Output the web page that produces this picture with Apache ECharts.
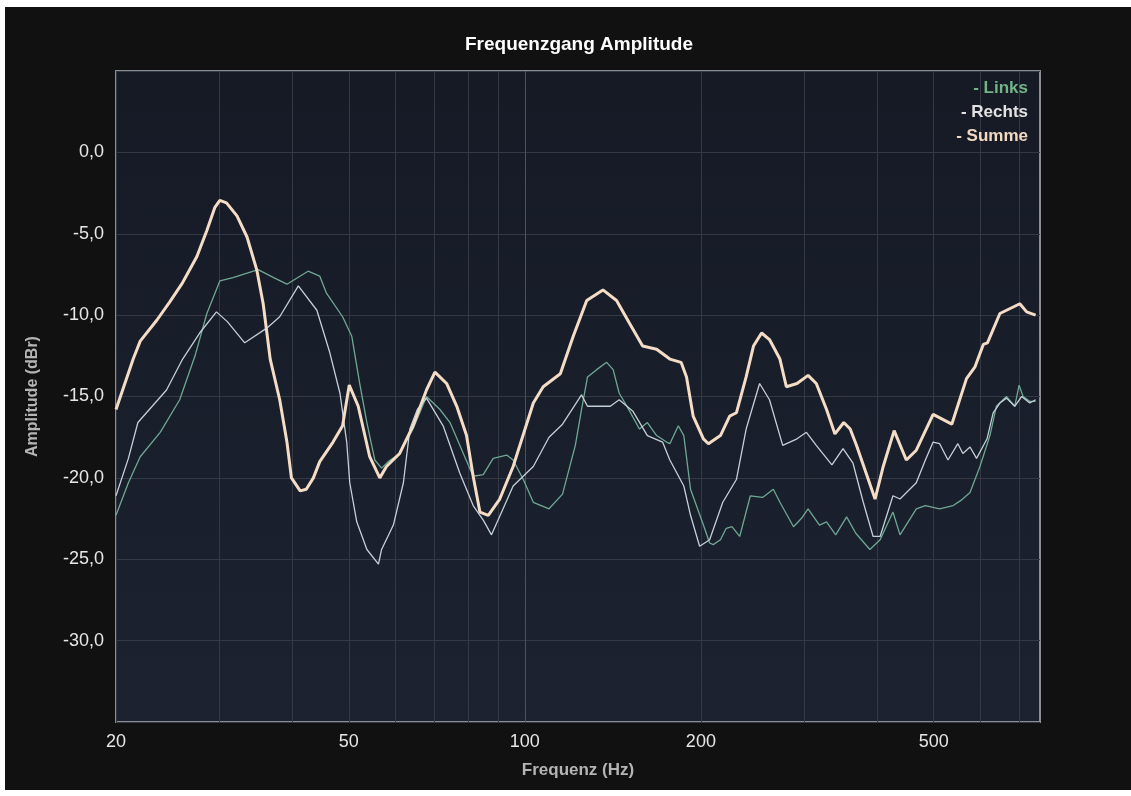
<!DOCTYPE html>
<html>
<head>
<meta charset="utf-8">
<title>Frequenzgang Amplitude</title>
<script src="https://cdn.jsdelivr.net/npm/echarts@6/dist/echarts.min.js"></script>
<style>
  html, body { margin: 0; padding: 0; background: #ffffff; width: 1131px; height: 796px; overflow: hidden; }
  #chart { position: absolute; left: 5px; top: 7px; width: 1126px; height: 783px; background: #111111; }
</style>
</head>
<body>
<div id="chart"></div>
<script>
// Frequenzgang: Frequenz in Hz, Pegel in dBr
const freqLinks = [20.0, 21.0, 22.0, 23.8, 25.7, 27.3, 28.6, 30.1, 31.7, 35.0, 37.2, 39.2, 42.6, 44.6, 45.8, 48.8, 50.6, 52.2, 53.7, 55.4, 56.9, 58.4, 61.1, 64.4, 67.9, 71.6, 74.5, 78.5, 81.6, 84.9, 88.3, 93.1, 95.5, 99.4, 103.4, 110, 116, 122, 125, 128, 132.7, 138, 141.6, 145, 150, 157, 162, 168, 174.7, 177, 183, 187, 192, 202, 207, 210, 216, 221, 226, 233, 243, 255, 266, 273, 288, 297, 305, 319, 328, 340, 355, 368, 389, 405, 426, 438, 467, 484, 512, 540, 556, 577, 600, 624, 640, 666, 688, 700, 711, 730, 747];
const dbLinks = [-22.3, -20.3, -18.7, -17.2, -15.2, -12.5, -9.9, -7.9, -7.7, -7.2, -7.7, -8.1, -7.3, -7.6, -8.65, -10.1, -11.3, -14.2, -16.6, -18.9, -19.4, -19.0, -18.5, -17.0, -15.0, -15.8, -16.6, -18.5, -19.9, -19.8, -18.8, -18.6, -18.9, -20.1, -21.5, -21.9, -21.0, -18.0, -15.8, -13.8, -13.35, -12.9, -13.35, -14.8, -15.7, -17.0, -16.6, -17.4, -17.8, -17.9, -16.8, -17.4, -20.7, -22.9, -24.0, -24.1, -23.8, -23.1, -23.0, -23.6, -21.1, -21.2, -20.7, -21.5, -23.0, -22.5, -21.9, -22.9, -22.7, -23.5, -22.4, -23.4, -24.4, -23.8, -22.1, -23.5, -21.9, -21.7, -21.9, -21.7, -21.4, -20.9, -19.3, -17.4, -15.6, -15.0, -15.6, -14.3, -15.0, -15.3, -15.3];

const freqRechts = [20.0, 21.0, 21.8, 24.4, 26.0, 27.8, 29.7, 31.0, 33.2, 36.2, 38.1, 41.0, 44.1, 46.4, 48.3, 49.6, 50.2, 51.6, 53.7, 56.2, 56.9, 59.6, 62.0, 63.6, 65.5, 67.9, 72.5, 77.4, 81.6, 84.9, 87.7, 91.8, 95.5, 103.4, 110, 116, 125, 128, 134, 140, 145, 153, 162, 172, 177, 187, 192, 199, 207, 218, 230, 239, 252, 262, 276, 292, 303, 315, 335, 350, 364, 379, 394, 405, 426, 438, 467, 484, 499, 512, 529, 550, 561, 577, 592, 617, 632, 649, 666, 688, 707, 730, 747];
const dbRechts = [-21.1, -18.8, -16.6, -14.6, -12.7, -11.1, -9.8, -10.4, -11.7, -10.8, -10.1, -8.2, -9.7, -12.3, -14.8, -17.8, -20.3, -22.7, -24.4, -25.3, -24.4, -22.9, -20.3, -17.0, -15.8, -15.1, -16.8, -19.7, -21.7, -22.6, -23.5, -21.9, -20.5, -19.3, -17.5, -16.7, -14.9, -15.6, -15.6, -15.6, -15.2, -15.9, -17.4, -17.8, -18.9, -20.5, -22.3, -24.2, -23.8, -21.5, -20.1, -17.0, -14.2, -15.2, -18.0, -17.6, -17.2, -18.0, -19.2, -18.2, -19.1, -21.5, -23.6, -23.6, -21.1, -21.3, -20.3, -18.9, -17.8, -17.9, -18.9, -17.9, -18.5, -18.1, -18.8, -17.6, -16.0, -15.4, -15.1, -15.6, -15.0, -15.4, -15.2];

const freqSumme = [20.0, 21.4, 22.0, 23.5, 24.7, 26.0, 27.5, 28.6, 29.5, 30.1, 30.9, 32.2, 33.5, 34.8, 35.7, 36.7, 38.1, 39.2, 39.9, 41.3, 42.3, 43.5, 44.6, 47.0, 48.8, 50.1, 51.9, 54.3, 56.5, 58.0, 61.1, 64.4, 67.9, 70.2, 73.5, 76.5, 79.5, 81.6, 83.8, 86.6, 90.6, 95.5, 103.4, 107.5, 115, 121, 127.6, 136, 143.5, 151, 159, 168, 177, 185, 189, 194, 202, 206, 216, 224, 230, 239, 246, 254, 262, 273, 280, 292, 305, 315, 328, 339, 351, 360, 369, 397, 410, 428, 449, 467, 499, 537, 569, 588, 608, 618, 649, 684, 702, 721, 747];
const dbSumme = [-15.8, -12.7, -11.6, -10.3, -9.2, -8.0, -6.4, -4.8, -3.4, -2.95, -3.1, -3.9, -5.2, -7.2, -9.3, -12.7, -15.2, -17.8, -20.0, -20.8, -20.7, -20.0, -19.0, -17.8, -16.8, -14.3, -15.6, -18.7, -20.0, -19.3, -18.5, -16.8, -14.6, -13.5, -14.2, -15.6, -17.4, -19.9, -22.1, -22.3, -21.3, -19.3, -15.4, -14.4, -13.6, -11.3, -9.1, -8.45, -9.1, -10.5, -11.9, -12.1, -12.7, -12.9, -13.8, -16.2, -17.6, -17.9, -17.4, -16.2, -16.0, -13.8, -11.9, -11.1, -11.5, -12.7, -14.4, -14.2, -13.7, -14.2, -15.8, -17.3, -16.6, -17.0, -18.0, -21.3, -19.3, -17.1, -18.9, -18.3, -16.1, -16.7, -13.9, -13.2, -11.8, -11.7, -9.9, -9.5, -9.3, -9.8, -10.0];

// Achsen
const gridFreqs = [20, 30, 40, 50, 60, 70, 80, 90, 100, 200, 300, 400, 500, 600, 700];
const labelFreqs = [20, 50, 100, 200, 500];
const freqMin = 20;
const freqMax = 760;
const dbMin = -35;
const dbMax = 5;
const dbStep = 5;

const seriesNames = ['Links', 'Rechts', 'Summe'];
const lineColors = ['#6fa892', '#c3d0d8', '#f4dcc5'];
const legendColors = ['#72b486', '#e2e2e2', '#f1d9c2'];

const pairs = (xs, ys) => xs.map((x, i) => [x, ys[i]]);

// dezente Gitterlinien, die Dekade bei 100 Hz etwas heller
const vGridColors = gridFreqs.map(f => (f === 100 ? '#4d525c' : '#343944'));

const FONT = '"Liberation Sans", Arial, sans-serif';

const chart = echarts.init(document.getElementById('chart'), null, { renderer: 'canvas' });

chart.setOption({
  backgroundColor: '#111111',
  animation: false,
  textStyle: { fontFamily: FONT },
  title: {
    text: 'Frequenzgang Amplitude',
    left: 569,
    top: 23,
    textAlign: 'center',
    textStyle: { color: '#ffffff', fontSize: 19, fontWeight: 'bold', fontFamily: FONT }
  },
  legend: {
    orient: 'vertical',
    right: 93,
    top: 68,
    align: 'right',
    itemWidth: 0,
    itemHeight: 0,
    itemGap: 7,
    icon: 'rect',
    formatter: '- {name}',
    selectedMode: false,
    textStyle: { fontSize: 17, fontWeight: 'bold', fontFamily: FONT },
    data: seriesNames.map((n, i) => ({ name: n, textStyle: { color: legendColors[i] } }))
  },
  grid: {
    left: 111,
    right: 91,
    top: 64,
    bottom: 68,
    show: true,
    borderColor: '#8a8d92',
    borderWidth: 2,
    backgroundColor: new echarts.graphic.LinearGradient(0, 0, 0, 1, [
      { offset: 0, color: '#151a25' },
      { offset: 1, color: '#1c2230' }
    ])
  },
  xAxis: {
    type: 'log',
    logBase: 10,
    min: freqMin,
    max: freqMax,
    name: 'Frequenz (Hz)',
    nameLocation: 'middle',
    nameGap: 40,
    nameTextStyle: { color: '#b4b4b4', fontSize: 17, fontWeight: 'bold', fontFamily: FONT },
    axisLine: { show: false },
    axisTick: { show: false, customValues: gridFreqs },
    axisLabel: {
      customValues: labelFreqs,
      formatter: v => String(Math.round(v)),
      color: '#e6e6e6',
      fontSize: 18,
      margin: 11,
      fontFamily: FONT
    },
    splitLine: { show: true, lineStyle: { color: vGridColors, width: 1 } }
  },
  yAxis: {
    type: 'value',
    min: dbMin,
    max: dbMax,
    interval: dbStep,
    name: 'Amplitude (dBr)',
    nameLocation: 'middle',
    nameGap: 75,
    nameTextStyle: { color: '#b4b4b4', fontSize: 16, fontWeight: 'bold', fontFamily: FONT },
    axisLine: { show: false },
    axisTick: { show: false },
    axisLabel: {
      showMinLabel: false,
      showMaxLabel: false,
      formatter: v => v.toFixed(1).replace('.', ','),
      color: '#e6e6e6',
      fontSize: 18,
      margin: 12,
      fontFamily: FONT
    },
    splitLine: { show: true, lineStyle: { color: '#343944', width: 1 } }
  },
  series: [
    {
      name: seriesNames[0],
      type: 'line',
      data: pairs(freqLinks, dbLinks),
      showSymbol: false,
      lineStyle: { color: lineColors[0], width: 1.3 },
      itemStyle: { color: lineColors[0] },
      z: 2
    },
    {
      name: seriesNames[1],
      type: 'line',
      data: pairs(freqRechts, dbRechts),
      showSymbol: false,
      lineStyle: { color: lineColors[1], width: 1.3 },
      itemStyle: { color: lineColors[1] },
      z: 3
    },
    {
      name: seriesNames[2],
      type: 'line',
      data: pairs(freqSumme, dbSumme),
      showSymbol: false,
      lineStyle: { color: lineColors[2], width: 3 },
      itemStyle: { color: lineColors[2] },
      z: 4
    }
  ]
});
</script>
</body>
</html>
